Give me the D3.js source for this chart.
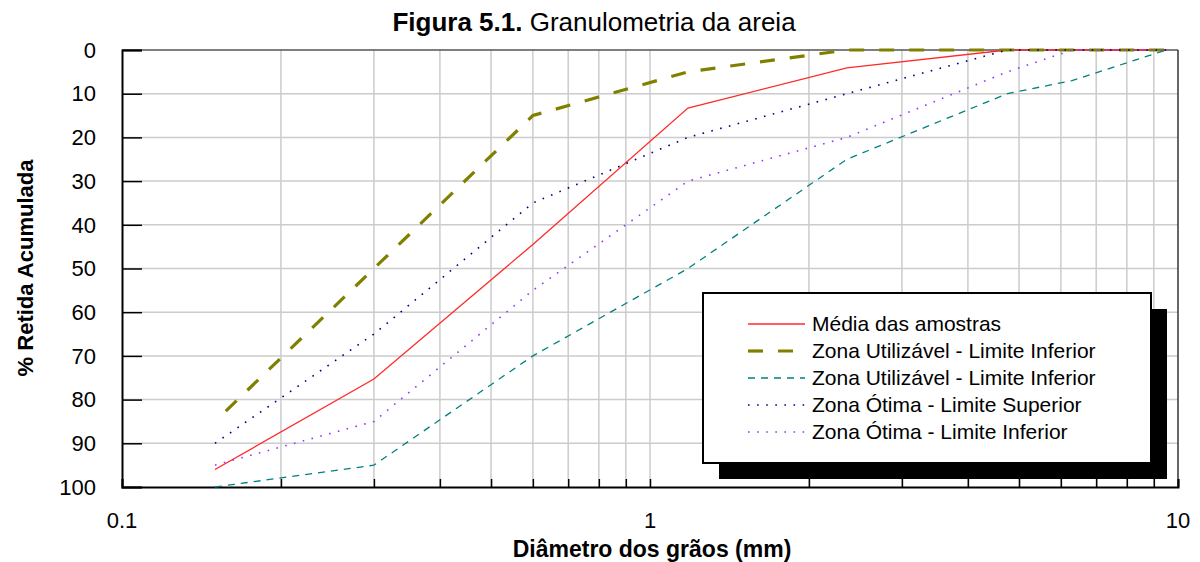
<!DOCTYPE html>
<html>
<head>
<meta charset="utf-8">
<script src="https://cdn.jsdelivr.net/npm/d3@7"></script>
<style>
  body { margin: 0; background: #fff; }
  text { font-family: "Liberation Sans", Arial, sans-serif; }
</style>
</head>
<body>
<div id="chart"></div>
<script>
// sieve openings (mm) and % retained for each curve
const sieves = [0.15, 0.3, 0.6, 1.18, 2.36, 4.75, 6.3, 9.5];
const media = [96, 75.3, 44.5, 13.3, 4.1, 0, 0, 0];
const utilInferior = [85, 50, 15, 5, 0, 0, 0, 0];
const utilSuperior = [100, 95, 70, 50, 25, 10, 7, 0];
const otimaSuperior = [90, 65, 35, 20, 10, 0, 0, 0];
const otimaInferior = [95, 85, 55, 30, 20, 5, 0, 0];

const seriesNames = [
  "Média das amostras",
  "Zona Utilizável - Limite Inferior",
  "Zona Utilizável - Limite Inferior",
  "Zona Ótima - Limite Superior",
  "Zona Ótima - Limite Inferior"
];
const xTickLabels = [0.1, 1, 10];
const yTickLabels = [0, 10, 20, 30, 40, 50, 60, 70, 80, 90, 100];

const width = 1200, height = 562;
const margin = { top: 50, right: 22, bottom: 75, left: 122 };

const svg = d3.select("#chart").append("svg")
  .attr("width", width)
  .attr("height", height);

const x = d3.scaleLog()
  .domain([0.1, 10])
  .range([margin.left, width - margin.right]);

const y = d3.scaleLinear()
  .domain([0, 100])
  .range([margin.top, height - margin.bottom]);

// gridlines
const minorX = [];
for (let dec = 0.1; dec < 10; dec *= 10) {
  for (let k = 2; k <= 9; k++) minorX.push(+(dec * k).toFixed(2));
}
minorX.push(1);

svg.append("g")
  .selectAll("line")
  .data(minorX)
  .join("line")
  .attr("x1", d => x(d)).attr("x2", d => x(d))
  .attr("y1", y(0)).attr("y2", y(100))
  .attr("stroke", "#cccccc")
  .attr("stroke-width", 1.5);

svg.append("g")
  .selectAll("line")
  .data(yTickLabels.filter(d => d > 0 && d < 100))
  .join("line")
  .attr("x1", x(0.1)).attr("x2", x(10))
  .attr("y1", d => y(d)).attr("y2", d => y(d))
  .attr("stroke", "#cccccc")
  .attr("stroke-width", 1.5);

// frame
svg.append("line")
  .attr("x1", x(0.1)).attr("x2", x(10))
  .attr("y1", y(0)).attr("y2", y(0))
  .attr("stroke", "#555").attr("stroke-width", 1.5);
svg.append("line")
  .attr("x1", x(10)).attr("x2", x(10))
  .attr("y1", y(0)).attr("y2", y(100))
  .attr("stroke", "#333").attr("stroke-width", 1.5);

// y axis (inner ticks)
const yAxis = svg.append("g")
  .attr("transform", `translate(${margin.left},0)`)
  .call(d3.axisRight(y).tickValues(yTickLabels).tickSize(20).tickFormat(""));
yAxis.select(".domain").attr("stroke", "#000").attr("stroke-width", 2);
yAxis.selectAll(".tick line").attr("stroke", "#000").attr("stroke-width", 1.5);

svg.append("g")
  .selectAll("text")
  .data(yTickLabels)
  .join("text")
  .attr("x", 96)
  .attr("y", d => y(d))
  .attr("dy", "0.35em")
  .attr("text-anchor", "end")
  .attr("font-size", 22)
  .text(d => d);

// x axis (inner ticks)
const xAxis = svg.append("g")
  .attr("transform", `translate(0,${y(100)})`)
  .call(d3.axisTop(x).tickValues(minorX.concat([0.1, 10])).tickSize(8).tickFormat(""));
xAxis.select(".domain").attr("stroke", "#000").attr("stroke-width", 2);
xAxis.selectAll(".tick line").attr("stroke", "#000").attr("stroke-width", 1.5);

svg.append("g")
  .selectAll("text")
  .data(xTickLabels)
  .join("text")
  .attr("x", d => x(d))
  .attr("y", 528)
  .attr("text-anchor", "middle")
  .attr("font-size", 22)
  .text(d => d);

// titles
const title = svg.append("text")
  .attr("x", 594)
  .attr("y", 31)
  .attr("text-anchor", "middle")
  .attr("font-size", 26);
title.append("tspan").attr("font-weight", "bold").text("Figura 5.1.");
title.append("tspan").text(" Granulometria da areia");

svg.append("text")
  .attr("x", 652)
  .attr("y", 557)
  .attr("text-anchor", "middle")
  .attr("font-size", 23)
  .attr("font-weight", "bold")
  .text("Diâmetro dos grãos (mm)");

svg.append("text")
  .attr("transform", "translate(33,268) rotate(-90)")
  .attr("text-anchor", "middle")
  .attr("font-size", 22)
  .attr("font-weight", "bold")
  .text("% Retida Acumulada");

// series
const styles = [
  { values: media, color: "#ff2a2a", width: 1.3, dash: null },
  { values: utilInferior, color: "#808000", width: 3.2, dash: "15,15", offset: 15 },
  { values: utilSuperior, color: "#008080", width: 1.3, dash: "7,6" },
  { values: otimaSuperior, color: "#000080", width: 1.6, dash: "1.6,7.5" },
  { values: otimaInferior, color: "#9933ff", width: 1.6, dash: "1.6,7.5" }
];

const line = d3.line()
  .x(d => x(d[0]))
  .y(d => y(d[1]));

styles.forEach(s => {
  svg.append("path")
    .datum(sieves.map((d, i) => [d, s.values[i]]))
    .attr("fill", "none")
    .attr("stroke", s.color)
    .attr("stroke-width", s.width)
    .attr("stroke-dasharray", s.dash)
    .attr("stroke-dashoffset", s.offset || 0)
    .attr("d", line);
});

// legend
const lg = { x: 703, y: 293, w: 448, h: 170 };
svg.append("rect")
  .attr("x", lg.x + 16).attr("y", lg.y + 16)
  .attr("width", lg.w).attr("height", lg.h)
  .attr("fill", "#000");
svg.append("rect")
  .attr("x", lg.x).attr("y", lg.y)
  .attr("width", lg.w).attr("height", lg.h)
  .attr("fill", "#fff")
  .attr("stroke", "#000")
  .attr("stroke-width", 2);

const rows = svg.append("g")
  .selectAll("g")
  .data(styles)
  .join("g")
  .attr("transform", (d, i) => `translate(0,${324 + i * 27})`);

rows.append("line")
  .attr("x1", 748).attr("x2", 805)
  .attr("stroke", d => d.color)
  .attr("stroke-width", d => d.width)
  .attr("stroke-dasharray", d => d.dash);

rows.append("text")
  .attr("x", 812)
  .attr("dy", "0.35em")
  .attr("font-size", 21)
  .text((d, i) => seriesNames[i]);
</script>
</body>
</html>
